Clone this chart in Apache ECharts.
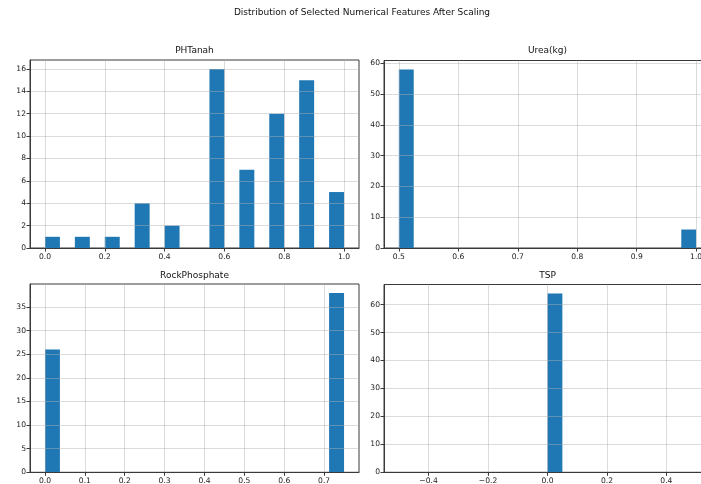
<!DOCTYPE html>
<html>
<head>
<meta charset="utf-8">
<script src="https://cdn.jsdelivr.net/npm/echarts@6/dist/echarts.min.js"></script>
<style>
html,body{margin:0;padding:0;background:#fff;}
#chart{width:701px;height:484px;}
</style>
</head>
<body>
<div id="chart"></div>
<script>
// ---- data (histograms, 20 bins each) ----
const suptitle = 'Distribution of Selected Numerical Features After Scaling';
const panelTitles = ['PHTanah', 'Urea(kg)', 'RockPhosphate', 'TSP'];

// PHTanah: bin width 0.05
const phBinStart = [0.0, 0.1, 0.2, 0.3, 0.4, 0.55, 0.65, 0.75, 0.85, 0.95];
const phCounts   = [1, 1, 1, 4, 2, 16, 7, 12, 15, 5];
const phBinWidth = 0.05;

// Urea(kg): bin width 0.025
const ureaBinStart = [0.5, 0.975];
const ureaCounts   = [58, 6];
const ureaBinWidth = 0.025;

// RockPhosphate: bin width 0.0375
const rockBinStart = [0.0, 0.7125];
const rockCounts   = [26, 38];
const rockBinWidth = 0.0375;

// TSP: bin width 0.05
const tspBinStart = [0.0];
const tspCounts   = [64];
const tspBinWidth = 0.05;

// tick labels
const phXTicks   = [0.0, 0.2, 0.4, 0.6, 0.8, 1.0];
const phYTicks   = [0, 2, 4, 6, 8, 10, 12, 14, 16];
const ureaXTicks = [0.5, 0.6, 0.7, 0.8, 0.9, 1.0];
const ureaYTicks = [0, 10, 20, 30, 40, 50, 60];
const rockXTicks = [0.0, 0.1, 0.2, 0.3, 0.4, 0.5, 0.6, 0.7];
const rockYTicks = [0, 5, 10, 15, 20, 25, 30, 35];
const tspXTicks  = [-0.4, -0.2, 0.0, 0.2, 0.4];
const tspYTicks  = [0, 10, 20, 30, 40, 50, 60];

// axis ranges (matplotlib 5% margins)
const xRanges = [[-0.05, 1.05], [0.475, 1.025], [-0.0375, 0.7875], [-0.55, 0.55]];
const yMax = [16.8, 60.9, 39.9, 67.2];

// ---- layout ----
const grids = [
  {left: 30,  top: 60,  width: 329, height: 188},
  {left: 384, top: 60.5, width: 327, height: 187.5},
  {left: 30,  top: 284, width: 329, height: 188.3},
  {left: 384, top: 284.5, width: 327, height: 187.8}
];
const titlePos = [[194.5, 46], [547.5, 46], [194.5, 271], [547.5, 271]];

const FONT = 'DejaVu Sans';
const BLUE = '#1f77b4';
const SPINE = '#3a3a3a';
const GRIDC = 'rgba(176,176,176,0.45)';

function fmtX(v) {
  const s = v.toFixed(1);
  return s.charAt(0) === '-' ? '\u2212' + s.slice(1) : s;
}

const binData = [
  phBinStart.map((s, i) => [s, s + phBinWidth, phCounts[i]]),
  ureaBinStart.map((s, i) => [s, s + ureaBinWidth, ureaCounts[i]]),
  rockBinStart.map((s, i) => [s, s + rockBinWidth, rockCounts[i]]),
  tspBinStart.map((s, i) => [s, s + tspBinWidth, tspCounts[i]])
];
const xTicks = [phXTicks, ureaXTicks, rockXTicks, tspXTicks];
const yTicks = [phYTicks, ureaYTicks, rockYTicks, tspYTicks];

const option = {
  backgroundColor: '#fff',
  animation: false,
  title: [{
    text: suptitle, left: 362, top: 8.5, textAlign: 'center', padding: 0,
    textStyle: {fontFamily: FONT, fontSize: 9, fontWeight: 'normal', color: '#111'}
  }].concat(panelTitles.map((t, i) => ({
    text: t, left: titlePos[i][0], top: titlePos[i][1], textAlign: 'center', padding: 0,
    textStyle: {fontFamily: FONT, fontSize: 9, fontWeight: 'normal', color: '#111'}
  }))),
  grid: grids.map(g => Object.assign({show: true, borderColor: SPINE, borderWidth: 1,
    backgroundColor: 'transparent', containLabel: false, outerBoundsMode: 'none'}, g)),
  xAxis: grids.map((g, i) => ({
    type: 'value', gridIndex: i, min: xRanges[i][0], max: xRanges[i][1], z: 5,
    axisLine: {show: true, onZero: false, lineStyle: {color: SPINE, width: 1}},
    axisTick: {show: true, length: 3.5, customValues: xTicks[i], lineStyle: {color: SPINE, width: 1}},
    axisLabel: {show: true, customValues: xTicks[i], margin: 5, formatter: fmtX,
      fontFamily: FONT, fontSize: 7.6, color: '#222'},
    splitLine: {show: true, customValues: xTicks[i], lineStyle: {color: GRIDC, width: 1}}
  })),
  yAxis: grids.map((g, i) => ({
    type: 'value', gridIndex: i, min: 0, max: yMax[i], z: 5,
    axisLine: {show: true, onZero: false, lineStyle: {color: SPINE, width: 1}},
    axisTick: {show: true, length: 3.5, customValues: yTicks[i], lineStyle: {color: SPINE, width: 1}},
    axisLabel: {show: true, customValues: yTicks[i], margin: 4, formatter: v => String(Math.round(v)),
      fontFamily: FONT, fontSize: 7.6, color: '#222'},
    splitLine: {show: true, customValues: yTicks[i], lineStyle: {color: GRIDC, width: 1}}
  })),
  series: binData.map((d, i) => ({
    type: 'custom', xAxisIndex: i, yAxisIndex: i, z: 2,
    data: d,
    renderItem: function (params, api) {
      const x0 = api.value(0), x1 = api.value(1), c = api.value(2);
      const p0 = api.coord([x0, 0]);
      const p1 = api.coord([x1, c]);
      return {
        type: 'rect',
        shape: {x: p0[0], y: p1[1], width: p1[0] - p0[0], height: p0[1] - p1[1]},
        style: {fill: BLUE}
      };
    }
  }))
};

const chart = echarts.init(document.getElementById('chart'), null, {renderer: 'canvas'});
chart.setOption(option);
</script>
</body>
</html>
